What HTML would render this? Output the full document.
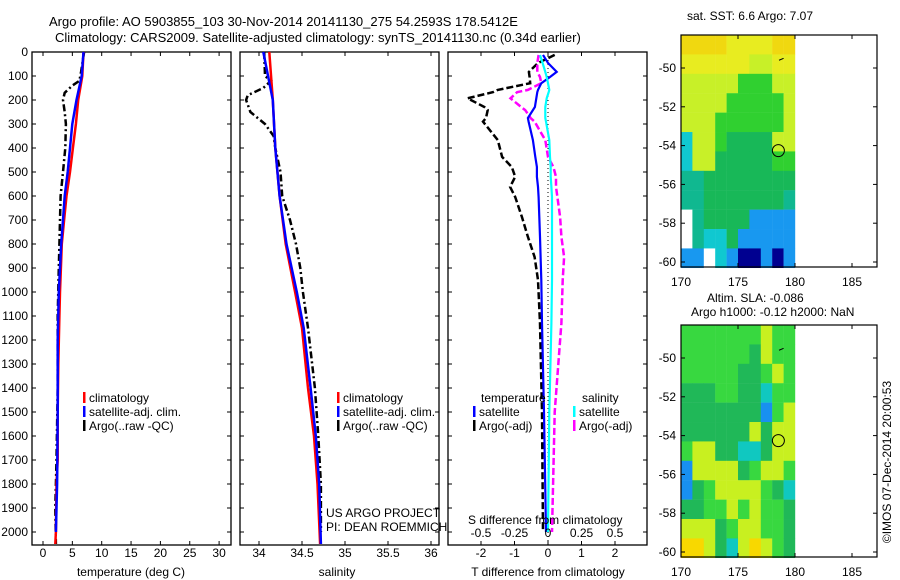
<!DOCTYPE html>
<html><head><meta charset="utf-8"><style>
body{margin:0;background:#fff;}
svg{display:block;font-family:"Liberation Sans",sans-serif;}
text{font-size:12px;fill:#000;}
</style></head><body>
<svg id="c" width="900" height="580" viewBox="0 0 900 580">
<text x="49" y="26" style="font-size:13px">Argo profile: AO 5903855_103 30-Nov-2014 20141130_275 54.2593S 178.5412E</text>
<text x="55" y="42" style="font-size:13px">Climatology: CARS2009. Satellite-adjusted climatology: synTS_20141130.nc (0.34d earlier)</text>
<text x="750" y="20" text-anchor="middle">sat. SST: 6.6 Argo: 7.07</text>
<text x="707" y="302">Altim. SLA: -0.086</text>
<text x="691" y="316">Argo h1000: -0.12 h2000: NaN</text>
<text transform="translate(891,462) rotate(-90)" text-anchor="middle">©IMOS 07-Dec-2014 20:00:53</text>
</svg>
<script>
// ---- depth levels and profile data ----
const depT = [0,100,200,300,400,500,600,700,800,1000,1100,1300,1500,1700,1800,2000,2050];
const tClim = [6.9,6.7,6.0,5.6,5.1,4.6,4.0,3.6,3.2,2.9,2.8,2.6,2.5,2.5,2.3,2.2,2.1];
const depTs = [0,100,200,300,400,500,600,700,800,1000,1200,1500,1800,2000];
const tSat = [6.9,6.6,5.7,5.0,4.6,4.2,3.7,3.4,3.1,2.7,2.5,2.5,2.4,2.2];
const depTa = [0,80,120,140,170,200,250,300,400,500,600,700,900,1100,1400,1700,1900,2050];
const tArgo = [7.0,6.5,6.2,5.0,3.7,3.4,3.7,3.9,3.8,3.4,3.0,2.9,2.7,2.5,2.5,2.3,2.1,2.2];

const depS = [0,200,400,600,800,1000,1150,1400,1600,1800,2050];
const sClim = [34.12,34.16,34.19,34.24,34.31,34.42,34.50,34.57,34.64,34.68,34.71];
const sSat = [34.05,34.16,34.19,34.24,34.32,34.44,34.52,34.60,34.66,34.70,34.72];
const depSa = [0,100,120,150,180,200,250,300,350,400,500,600,700,800,900,1000,1150,1400,1600,1800,2000];
const sArgo = [34.06,34.07,34.14,34.05,33.87,33.85,33.90,34.07,34.17,34.19,34.25,34.27,34.36,34.43,34.48,34.51,34.57,34.65,34.69,34.72,34.72];

const depD = [12,46,83,104,130,158,167,193,229,242,275,290,367,437,479,520,562,604,687,770,854,950,1130,1500,2000];
const dTsat = [-0.15,0,0.26,0.06,-0.2,-0.3,-0.32,-0.35,-0.39,-0.45,-0.6,-0.58,-0.45,-0.38,-0.33,-0.33,-0.3,-0.28,-0.26,-0.24,-0.22,-0.2,-0.18,-0.12,-0.06];
const dTargo = [0.2,-0.3,-0.57,-0.55,-0.53,-1.5,-1.64,-2.4,-1.9,-1.8,-1.85,-1.94,-1.5,-1.37,-1.08,-0.98,-1.13,-0.98,-0.78,-0.6,-0.4,-0.3,-0.24,-0.18,-0.15];
const dSsat = [-0.06,-0.04,-0.02,-0.01,0,0.01,0.005,-0.01,-0.02,-0.02,-0.02,-0.015,0.01,0.015,0.02,0.02,0.025,0.03,0.03,0.03,0.03,0.03,0.025,0.01,0.0];
const dSargo = [-0.07,-0.08,-0.08,-0.06,-0.05,-0.15,-0.23,-0.28,-0.2,-0.17,-0.13,-0.1,-0.02,0.0,0.04,0.06,0.06,0.07,0.09,0.1,0.12,0.11,0.1,0.05,0.03];

const depTicks = [0,100,200,300,400,500,600,700,800,900,1000,1100,1200,1300,1400,1500,1600,1700,1800,1900,2000];
const tTicks = [0,5,10,15,20,25,30];
const sTicks = [34,34.5,35,35.5,36];
const sTickLabels = ["34","34.5","35","35.5","36"];
const dtTicks = [-2,-1,0,1,2];
const dsTicks = [-0.5,-0.25,0,0.25,0.5];
const dsTickLabels = ["-0.5","-0.25","0","0.25","0.5"];
const lonTicks = [170,175,180,185];
const latTicks = [-50,-52,-54,-56,-58,-60];

// map grids: 1-degree cells, lon 170..180, rows from lat -48.3 downward
const sstRows = ["aaaabbbbaa","bbbbbbccbb","cccccdddcc","ccccdddddc","cccddddddc","gccdeeeecc","gcceeeeedd","ffeeeeeeee","ffeeeeeeef","wfeeeehhhh","wfggehhhhh","hhwghiihih"];
const slaRows = ["GGGGGGGYGG","GGGGGGDYGG","GGGGGDDGYG","DDDGGDDCGG","DDDDDDDBGY","DDDDDDYDYY","GYYDDCCDYY","BYYYYDGYYG","BDGYYYYGDC","DDGGYGYGGD","YYYDGYYGGD","OOYDCYOYGD"];
const argoLon = 178.5412, argoLat = -54.2593;

const NS="http://www.w3.org/2000/svg";
const svg=document.getElementById('c');
function el(tag,attrs,parent){const e=document.createElementNS(NS,tag);for(const k in attrs)e.setAttribute(k,attrs[k]);(parent||svg).appendChild(e);return e;}
function txt(x,y,s,anchor,parent){const t=el('text',{x:x,y:y,'text-anchor':anchor||'start'},parent);t.textContent=s;return t;}

const yD = d => 52 + d*0.24;
const TOP=52, BOT=545;
const xT = v => 43 + v*5.87;
const xS = v => 259 + (v-34)*86;
const xDT = v => 548 + v*33.5;
const xDS = v => 548 + v*134;

function line(xs,ds,fx,color,dash,w,name){
  const pts=xs.map((v,i)=>fx(v).toFixed(1)+','+yD(ds[i]).toFixed(1)).join(' ');
  const p=el('polyline',{points:pts,fill:'none',stroke:color,'stroke-width':w||2.5});
  if(dash)p.setAttribute('stroke-dasharray',dash);
  
  
}
function panel(x0,x1,name){
  const g=el('g',{});
  
  
  el('rect',{x:x0,y:TOP,width:x1-x0,height:BOT-TOP,fill:'none',stroke:'#000','stroke-width':1.3},g);
  depTicks.forEach(d=>{const y=yD(d);
    el('line',{x1:x0,x2:x0+4,y1:y,y2:y,stroke:'#000'},g);
    el('line',{x1:x1-4,x2:x1,y1:y,y2:y,stroke:'#000'},g);});
  return g;
}
function xticks(g,vals,labels,fx,ylab){
  vals.forEach((v,i)=>{const x=fx(v);
    el('line',{x1:x,x2:x,y1:TOP,y2:TOP+4,stroke:'#000'},g);
    el('line',{x1:x,x2:x,y1:BOT-4,y2:BOT,stroke:'#000'},g);
    const t=txt(x,ylab,labels[i],'middle',g);
    
    });
}
function legendEntry(x,y,color,label){
  el('rect',{x:x,y:y-10,width:2.5,height:11,fill:color});
  const t=txt(x+6,y,label);
  
  
}

// Panel 1 temperature
const g1=panel(32,231,'temperature-panel');
depTicks.forEach(d=>{const t=txt(28,yD(d)+4,String(d),'end');
  
  });
xticks(g1,tTicks,tTicks.map(String),xT,557);
txt(131,576,'temperature (deg C)','middle');
line(tArgo,depTa,xT,'#000','7,3,2,3',2.5,'temperature-argo-line');
line(tClim,depT,xT,'#ff0000',null,2.5,'temperature-climatology-line');
line(tSat,depTs,xT,'#0000ff',null,2.5,'temperature-satellite-line');
legendEntry(83,402,'#ff0000','climatology');
legendEntry(83,416,'#0000ff','satellite-adj. clim.');
legendEntry(83,430,'#000','Argo(..raw -QC)');

// Panel 2 salinity
const g2=panel(240,439,'salinity-panel');
xticks(g2,sTicks,sTickLabels,xS,557);
txt(337,576,'salinity','middle');
line(sArgo,depSa,xS,'#000','7,3,2,3',2.5,'salinity-argo-line');
line(sClim,depS,xS,'#ff0000',null,2.5,'salinity-climatology-line');
line(sSat,depS,xS,'#0000ff',null,2.5,'salinity-satellite-line');
legendEntry(337,402,'#ff0000','climatology');
legendEntry(337,416,'#0000ff','satellite-adj. clim.');
legendEntry(337,430,'#000','Argo(..raw -QC)');
txt(326,517,'US ARGO PROJECT');
txt(326,531,'PI: DEAN ROEMMICH');

// Panel 3 differences
const g3=panel(448,647,'difference-panel');
xticks(g3,dtTicks,dtTicks.map(String),xDT,557);
txt(548,576,'T difference from climatology','middle');
el('line',{x1:xDT(0),x2:xDT(0),y1:TOP,y2:BOT,stroke:'#000','stroke-dasharray':'1,3'});
line(dTargo,depD,xDT,'#000','7,3',2.5,'tdiff-argo-line');
line(dSargo,depD,xDS,'#ff00ff','7,3',2.5,'sdiff-argo-line');
line(dTsat,depD,xDT,'#0000ff',null,2.2,'tdiff-satellite-line');
line(dSsat,depD,xDS,'#00ffff',null,2.2,'sdiff-satellite-line');
dsTicks.forEach((v,i)=>{const t=txt(xDS(v),537,dsTickLabels[i],'middle');
  
  });
txt(468,524,'S difference from climatology');
txt(481,402,'temperature');
txt(582,402,'salinity');
legendEntry(473,416,'#0000ff','satellite');
legendEntry(473,430,'#000','Argo(-adj)');
legendEntry(573,416,'#00ffff','satellite');
legendEntry(573,430,'#ff00ff','Argo(-adj)');

// Maps
const sstCol={a:'#f0d810',b:'#e8ec20',c:'#c8f028',d:'#30d030',e:'#18b858',f:'#10b890',g:'#10c8d0',h:'#1898f0',i:'#000090',w:'#ffffff'};
const slaCol={G:'#38d840',D:'#20b858',Y:'#c8f020',O:'#f8d800',C:'#10c8c0',B:'#1890f0'};
function map(y0,rows,cols,name,lab){
  const g=el('g',{});
  
  
  const xL = lon => 681 + (lon-170)*11.4;
  const yL = lat => y0 + 33 + (-50-lat)*19.4;
  rows.forEach((r,ri)=>{[...r].forEach((ch,ci)=>{
    const lat=-48.3-ri, lon=170+ci;
    const c=el('rect',{x:xL(lon),y:yL(lat),width:11.6,height:19.6,fill:cols[ch]},g);
    
    
  });});
  el('rect',{x:681,y:y0,width:196,height:232,fill:'none',stroke:'#000','stroke-width':1.2},g);
  lonTicks.forEach(v=>{const x=xL(v);
    el('line',{x1:x,x2:x,y1:y0,y2:y0+4,stroke:'#000'},g);
    el('line',{x1:x,x2:x,y1:y0+232-4,y2:y0+232,stroke:'#000'},g);
    txt(x,y0+251,String(v),'middle',g);});
  latTicks.forEach(v=>{const y=yL(v);
    el('line',{x1:681,x2:685,y1:y,y2:y,stroke:'#000'},g);
    el('line',{x1:873,x2:877,y1:y,y2:y,stroke:'#000'},g);
    txt(676,y+4,String(v),'end',g);});
  const m=el('circle',{cx:xL(argoLon),cy:yL(argoLat),r:6,fill:'none',stroke:'#000','stroke-width':1},g);
  
  
  el('line',{x1:xL(178.6),x2:xL(179),y1:yL(-49.6),y2:yL(-49.5),stroke:'#000','stroke-width':1},g);
}
map(35,sstRows,sstCol,'sst-map');
map(325,slaRows,slaCol,'sla-map');
</script>
</body></html>
